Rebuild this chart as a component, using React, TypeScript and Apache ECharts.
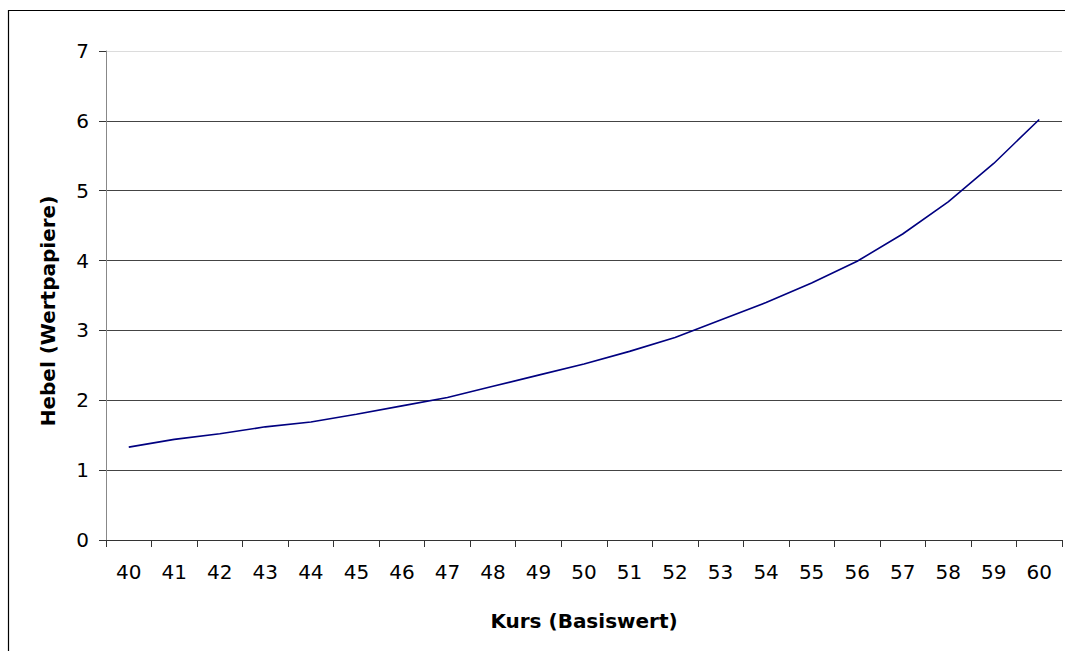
import React, { useEffect, useRef } from "react";
import * as echarts from "echarts";

const categories = ["40","41","42","43","44","45","46","47","48","49","50","51","52","53","54","55","56","57","58","59","60"];
const hebel = [1.33,1.44,1.52,1.62,1.69,1.80,1.92,2.04,2.20,2.36,2.52,2.70,2.90,3.15,3.40,3.68,3.99,4.38,4.84,5.39,6.02];
const yTitle = "Hebel (Wertpapiere)";
const xTitle = "Kurs (Basiswert)";

export default function App() {
  const ref = useRef<HTMLDivElement>(null);
  useEffect(() => {
    if (!ref.current) return;
    const chart = echarts.init(ref.current, null, { renderer: "svg" });
    const font = "'DejaVu Sans', Verdana, sans-serif";
    chart.setOption({
      animation: false,
      backgroundColor: "#ffffff",
      grid: { left: 106, top: 51, right: 3, bottom: 111, containLabel: false },
      xAxis: {
        type: "category",
        data: categories,
        boundaryGap: true,
        axisLine: { show: true, lineStyle: { color: "#333", width: 1 } },
        axisTick: { show: true, length: 7, alignWithLabel: false, lineStyle: { color: "#333" } },
        axisLabel: { color: "#000", fontFamily: font, fontSize: 20, margin: 22 },
        splitLine: { show: false },
      },
      yAxis: {
        type: "value",
        min: 0,
        max: 7,
        interval: 1,
        axisLine: { show: true, lineStyle: { color: "#888", width: 1 } },
        axisTick: { show: true, length: 7, lineStyle: { color: "#333" } },
        axisLabel: { color: "#000", fontFamily: font, fontSize: 20, margin: 17 },
        splitLine: {
          show: true,
          lineStyle: { color: ["#444", "#444", "#444", "#444", "#444", "#444", "#444", "#dcdcdc"], width: 1 },
        },
      },
      graphic: [
        {
          type: "polyline",
          shape: { points: [[8.5, 651], [8.5, 10.5], [1065, 10.5]] },
          style: { stroke: "#000", lineWidth: 1.2, fill: "none" },
          silent: true,
        },
        {
          type: "text",
          x: 584,
          y: 621,
          style: {
            text: xTitle,
            font: `bold 20px ${font}`,
            fill: "#000",
            align: "center",
            verticalAlign: "middle",
          },
        },
        {
          type: "text",
          x: 48,
          y: 311,
          rotation: Math.PI / 2,
          style: {
            text: yTitle,
            font: `bold 20px ${font}`,
            fill: "#000",
            align: "center",
            verticalAlign: "middle",
          },
        },
      ],
      series: [
        {
          type: "line",
          data: hebel,
          symbol: "none",
          smooth: false,
          lineStyle: { color: "#000080", width: 1.6 },
        },
      ],
    });
    return () => chart.dispose();
  }, []);
  return (
    <div style={{ position: "fixed", left: 0, top: 0, width: 1065, height: 651, overflow: "hidden", background: "#fff" }}>
      <div ref={ref} style={{ width: 1065, height: 651 }} />
    </div>
  );
}
